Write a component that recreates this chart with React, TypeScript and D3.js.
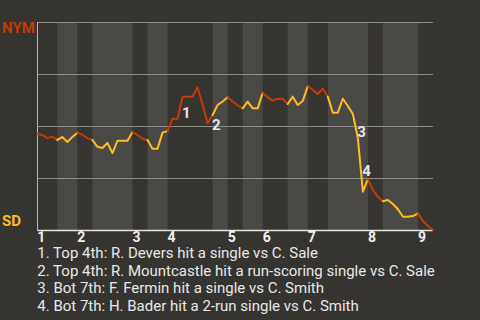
import React from "react";
import * as d3 from "d3";

// ---- data ----
const teams = ["NYM", "SD"];
const innings = ["1", "2", "3", "4", "5", "6", "7", "8", "9"];
// number of plays in each half inning (top 1, bot 1, top 2, ...)
const halfInningPlays = [4, 4, 3, 8, 3, 4, 9, 3, 3, 4, 5, 4, 4, 8, 3, 7, 3];
// NYM win probability after each play (index 0 = pregame)
const nymWinProb = [
  0.463, 0.457, 0.442, 0.449, 0.433, 0.447, 0.423, 0.447, 0.468, 0.458,
  0.442, 0.433, 0.4, 0.394, 0.418, 0.37, 0.429, 0.429, 0.429, 0.471,
  0.457, 0.439, 0.433, 0.391, 0.391, 0.468, 0.476, 0.535, 0.535, 0.641,
  0.641, 0.641, 0.686, 0.603, 0.513, 0.553, 0.601, 0.618, 0.638, 0.617,
  0.599, 0.585, 0.617, 0.585, 0.585, 0.66, 0.638, 0.622, 0.631, 0.631,
  0.606, 0.641, 0.601, 0.62, 0.692, 0.673, 0.654, 0.679, 0.641, 0.564,
  0.564, 0.631, 0.596, 0.558, 0.442, 0.184, 0.245, 0.192, 0.159, 0.138,
  0.144, 0.125, 0.1, 0.064, 0.064, 0.067, 0.08, 0.043, 0.019, 0.0,
];
const gridValues = [0.25, 0.5, 0.75, 1];
const keyPlays = [29, 35, 64, 65];
const keyPlayTexts = [
  "Top 4th: R. Devers hit a single vs C. Sale",
  "Top 4th: R. Mountcastle hit a run-scoring single vs C. Sale",
  "Bot 7th: F. Fermin hit a single vs C. Smith",
  "Bot 7th: H. Bader hit a 2-run single vs C. Smith",
];

const W = 480;
const H = 320;
const BG = "#363430";
const BAND = "#4b4946";
const AWAY = "#c23c08";
const HOME = "#fcbd27";
const FONT = "Roboto, 'Noto Sans', sans-serif";

export default function App() {
  const margin = { left: 37.3, right: 47, top: 22, bottom: 90 };
  const nPlays = nymWinProb.length - 1;
  const x = d3.scaleLinear().domain([0, nPlays]).range([margin.left, W - margin.right]);
  const y = d3.scaleLinear().domain([0, 1]).range([H - margin.bottom, margin.top]);

  const bounds: number[] = [0];
  halfInningPlays.forEach((n) => bounds.push(bounds[bounds.length - 1] + n));

  const line = d3
    .line<number>()
    .x((i) => x(i))
    .y((i) => y(nymWinProb[i]));

  const x0 = x(0);
  const x1 = x(nPlays);
  const yTop = y(1);
  const yBot = y(0);

  return (
    <svg
      width={W}
      height={H}
      style={{ position: "absolute", left: 0, top: 0, background: BG, display: "block" }}
    >
      <rect x={0} y={0} width={W} height={H} fill={BG} />
      {/* half-inning bands: bottom halves lighter */}
      {halfInningPlays.map((n, k) =>
        k % 2 === 1 ? (
          <rect
            key={"b" + k}
            x={x(bounds[k])}
            y={yTop}
            width={x(bounds[k + 1]) - x(bounds[k])}
            height={yBot - yTop}
            fill={BAND}
          />
        ) : null
      )}
      {/* grid lines */}
      {gridValues.map((v) => (
        <line
          key={"g" + v}
          x1={x0}
          x2={x1}
          y1={Math.round(y(v)) + 0.5}
          y2={Math.round(y(v)) + 0.5}
          stroke="#8e8c89"
          strokeWidth={1}
        />
      ))}
      <line x1={Math.floor(x0) + 0.5} x2={Math.floor(x0) + 0.5} y1={yTop} y2={yBot} stroke="#bdbbb8" strokeWidth={1} />
      <line x1={x0} x2={x1} y1={Math.round(yBot) + 0.5} y2={Math.round(yBot) + 0.5} stroke="#e6e4e0" strokeWidth={1.5} />

      {/* win probability line, coloured by batting team */}
      {halfInningPlays.map((n, k) => {
        const idx = d3.range(bounds[k], bounds[k + 1] + 1);
        return (
          <path
            key={"l" + k}
            d={line(idx) || ""}
            fill="none"
            stroke={k % 2 === 0 ? AWAY : HOME}
            strokeWidth={2}
            strokeLinejoin="round"
            strokeLinecap="round"
          />
        );
      })}

      {/* key play markers */}
      {keyPlays.map((p, i) => {
        const mx = (x(p - 1) + x(p)) / 2;
        const my = (y(nymWinProb[p - 1]) + y(nymWinProb[p])) / 2;
        return (
          <text
            key={"k" + i}
            x={mx + 2}
            y={my}
            dy="0.71em"
            fill="#e6e6e6"
            fontFamily={FONT}
            fontWeight="bold"
            fontSize={15}
          >
            {i + 1}
          </text>
        );
      })}

      {/* team labels */}
      <text x={2} y={33} fill={AWAY} fontFamily={FONT} fontWeight="bold" fontSize={15}>
        {teams[0]}
      </text>
      <text x={2} y={226} fill={HOME} fontFamily={FONT} fontWeight="bold" fontSize={15}>
        {teams[1]}
      </text>

      {/* inning labels */}
      {innings.map((lab, i) => (
        <text
          key={"i" + i}
          x={x(bounds[i * 2])}
          y={242}
          fill="#f0f0f0"
          fontFamily={FONT}
          fontWeight="bold"
          fontSize={14}
        >
          {lab}
        </text>
      ))}

      {/* key play list */}
      {keyPlayTexts.map((t, i) => (
        <text
          key={"t" + i}
          x={x0}
          y={258 + i * 17.7}
          fill="#e8e8e8"
          fontFamily={FONT}
          fontSize={15}
        >
          {`${i + 1}. ${t}`}
        </text>
      ))}
    </svg>
  );
}
